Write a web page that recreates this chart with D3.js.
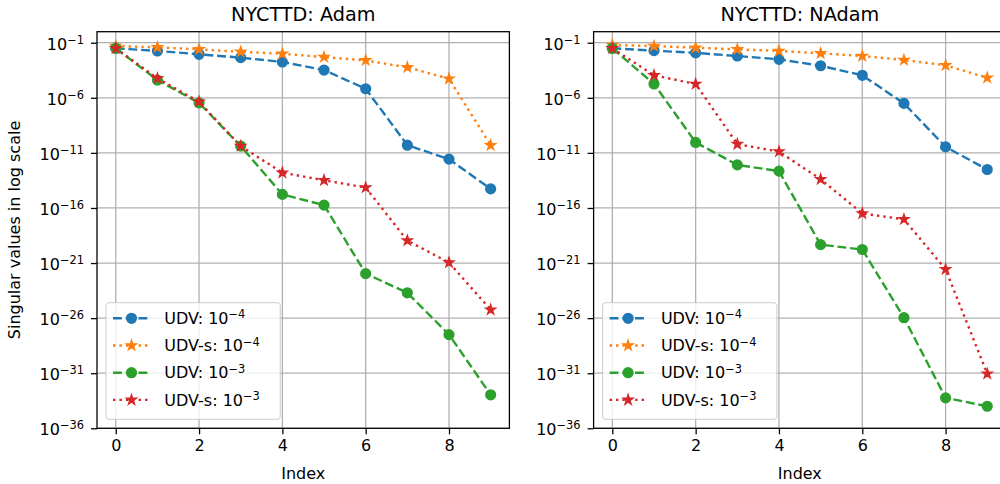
<!DOCTYPE html>
<html>
<head>
<meta charset="utf-8">
<script src="https://cdn.jsdelivr.net/npm/d3@7"></script>
<style>
  body { margin: 0; background: #fff; }
  svg { display: block; font-family: "DejaVu Sans", sans-serif; }
</style>
</head>
<body>
<svg id="chart" width="1000" height="484"></svg>
<script>
// data
var indices = [0, 1, 2, 3, 4, 5, 6, 7, 8, 9];
var xTicks = [0, 2, 4, 6, 8];
var yTickExps = [-1, -6, -11, -16, -21, -26, -31, -36];

var adamUdv4 = [3.1e-2, 1.8e-2, 8.9e-3, 4.4e-3, 1.8e-3, 3.3e-4, 6.6e-6, 5.0e-11, 2.7e-12, 5.4e-15];
var adamUdvs4 = [5.0e-2, 3.8e-2, 2.5e-2, 1.5e-2, 1.0e-2, 5.0e-3, 2.5e-3, 5.8e-4, 5.4e-5, 5.0e-11];
var adamUdv3 = [3.1e-2, 4.1e-5, 3.5e-7, 4.1e-11, 1.7e-15, 1.8e-16, 1.1e-22, 2.0e-24, 3.2e-28, 1.1e-33];
var adamUdvs3 = [3.1e-2, 5.8e-5, 4.4e-7, 4.1e-11, 1.6e-13, 3.3e-14, 7.1e-15, 1.1e-19, 1.1e-21, 5.8e-26];

var nadamUdv4 = [3.1e-2, 1.9e-2, 1.2e-2, 6.2e-3, 3.1e-3, 8.1e-4, 1.1e-4, 3.1e-7, 3.5e-11, 3.1e-13];
var nadamUdvs4 = [6.2e-2, 5.0e-2, 3.5e-2, 2.5e-2, 1.8e-2, 1.1e-2, 6.2e-3, 2.7e-3, 8.9e-4, 6.6e-5];
var nadamUdv3 = [3.1e-2, 1.8e-5, 8.9e-11, 8.1e-13, 2.2e-13, 4.7e-20, 1.7e-20, 1.1e-26, 5.8e-34, 1.0e-34];
var nadamUdvs3 = [3.1e-2, 1.1e-4, 1.8e-5, 6.2e-11, 1.3e-11, 4.1e-14, 3.2e-17, 9.3e-18, 2.7e-22, 8.9e-32];

var seriesNames = ["UDV", "UDV-s", "UDV", "UDV-s"];
var seriesExps = ["\u22124", "\u22124", "\u22123", "\u22123"];
var seriesColors = ["#1f77b4", "#ff7f0e", "#2ca02c", "#d62728"];
var seriesMarkers = ["circle", "star", "circle", "star"];
var seriesDash = ["8.9,3.8", "2.4,4", "8.9,3.8", "2.4,4"];

var svg = d3.select("#chart");
var top_ = 31.7, bottom = 428.3, panelW = 412.4;
var fs = 16;

// matplotlib style 5 point star
function starPath(R) {
  var r = R * 0.381966, pts = [];
  for (var i = 0; i < 10; i++) {
    var a = -Math.PI / 2 + i * Math.PI / 5, rr = i % 2 ? r : R;
    pts.push([rr * Math.cos(a), rr * Math.sin(a)]);
  }
  return "M" + pts.map(p => p[0].toFixed(2) + "," + p[1].toFixed(2)).join("L") + "Z";
}

function drawMarker(g, type, color, cx, cy) {
  if (type == "circle") {
    g.append("circle").attr("cx", cx).attr("cy", cy).attr("r", 4.8)
      .attr("fill", color).attr("stroke", color).attr("stroke-width", 1.6);
  } else {
    g.append("path").attr("d", starPath(4.8))
      .attr("transform", "translate(" + cx + "," + cy + ")")
      .attr("fill", color).attr("stroke", color).attr("stroke-width", 1.6)
      .attr("stroke-linejoin", "miter");
  }
}

function drawPanel(x0, title, data, withYLabel) {
  var x = d3.scaleLinear().domain([-0.45, 9.45]).range([x0, x0 + panelW]);
  var y = d3.scaleLog().domain([1e-36, 1]).range([bottom, top_]);
  var g = svg.append("g");

  // grid
  g.selectAll(".gx").data(xTicks).enter().append("line")
    .attr("x1", d => x(d)).attr("x2", d => x(d))
    .attr("y1", top_).attr("y2", bottom)
    .attr("stroke", "#b0b0b0").attr("stroke-width", 1.28);
  g.selectAll(".gy").data(yTickExps).enter().append("line")
    .attr("x1", x0).attr("x2", x0 + panelW)
    .attr("y1", d => y(Math.pow(10, d))).attr("y2", d => y(Math.pow(10, d)))
    .attr("stroke", "#b0b0b0").attr("stroke-width", 1.28);

  // series
  data.forEach(function (vals, k) {
    var line = d3.line().x((d, i) => x(indices[i])).y(d => y(d));
    g.append("path").datum(vals).attr("d", line)
      .attr("fill", "none").attr("stroke", seriesColors[k])
      .attr("stroke-width", 2.4).attr("stroke-dasharray", seriesDash[k])
      .attr("stroke-linecap", "butt");
    vals.forEach(function (v, i) {
      drawMarker(g, seriesMarkers[k], seriesColors[k], x(indices[i]), y(v));
    });
  });

  // axes
  var xAxis = d3.axisBottom(x).tickValues(xTicks).tickSize(6).tickPadding(5).tickFormat(d3.format("d"));
  var gx = g.append("g").attr("transform", "translate(0," + bottom + ")").call(xAxis);
  gx.select(".domain").remove();
  gx.selectAll("line").attr("stroke", "#000").attr("stroke-width", 1.28);
  gx.selectAll("text").attr("font-size", fs).attr("font-family", "DejaVu Sans").attr("fill", "#000");

  var yAxis = d3.axisLeft(y).tickValues(yTickExps.map(e => Math.pow(10, e))).tickSize(6).tickFormat("");
  var gy = g.append("g").attr("transform", "translate(" + x0 + ",0)").call(yAxis);
  gy.select(".domain").remove();
  gy.selectAll("line").attr("stroke", "#000").attr("stroke-width", 1.28);
  gy.selectAll(".tick text").remove();
  gy.selectAll(".tick").append("text")
    .attr("x", -13).attr("y", 6.3)
    .attr("text-anchor", "end").attr("font-size", fs).attr("fill", "#000")
    .attr("font-family", "DejaVu Sans")
    .each(function (d) {
      var t = d3.select(this);
      t.append("tspan").text("10");
      t.append("tspan").attr("font-size", 11.4).attr("dy", -5.7)
        .text("\u2212" + Math.round(-Math.log10(d)));
    });

  // spines
  g.append("rect").attr("x", x0).attr("y", top_).attr("width", panelW).attr("height", bottom - top_)
    .attr("fill", "none").attr("stroke", "#000").attr("stroke-width", 1.28);

  // title and labels
  g.append("text").attr("x", x0 + panelW / 2).attr("y", 21)
    .attr("text-anchor", "middle").attr("font-size", 19.2).text(title);
  g.append("text").attr("x", x0 + panelW / 2).attr("y", 479)
    .attr("text-anchor", "middle").attr("font-size", fs).text("Index");
  if (withYLabel) {
    g.append("text").attr("transform", "translate(20," + ((top_ + bottom) / 2) + ") rotate(-90)")
      .attr("text-anchor", "middle").attr("font-size", fs).text("Singular values in log scale");
  }

  // legend
  var lx = x0 + 9, ly = 302.7;
  var lg = g.append("g");
  lg.append("rect").attr("x", lx).attr("y", ly).attr("width", 174.3).attr("height", 116.6)
    .attr("rx", 3.5).attr("fill", "#fff").attr("fill-opacity", 0.8)
    .attr("stroke", "#cccccc").attr("stroke-opacity", 0.8).attr("stroke-width", 1.28);
  seriesNames.forEach(function (name, k) {
    var cy = ly + 15.6 + k * 27.2;
    lg.append("line").attr("x1", lx + 7).attr("x2", lx + 44).attr("y1", cy).attr("y2", cy)
      .attr("stroke", seriesColors[k]).attr("stroke-width", 2.4)
      .attr("stroke-dasharray", seriesDash[k]);
    drawMarker(lg, seriesMarkers[k], seriesColors[k], lx + 25.5, cy);
    var t = lg.append("text").attr("x", lx + 58.3).attr("y", cy + 5.7).attr("font-size", fs);
    t.append("tspan").text(name + ": 10");
    t.append("tspan").attr("font-size", 11.4).attr("dy", -5.7).text(seriesExps[k]);
  });
}

drawPanel(97, "NYCTTD: Adam", [adamUdv4, adamUdvs4, adamUdv3, adamUdvs3], true);
drawPanel(593.6, "NYCTTD: NAdam", [nadamUdv4, nadamUdvs4, nadamUdv3, nadamUdvs3], false);
</script>
</body>
</html>
